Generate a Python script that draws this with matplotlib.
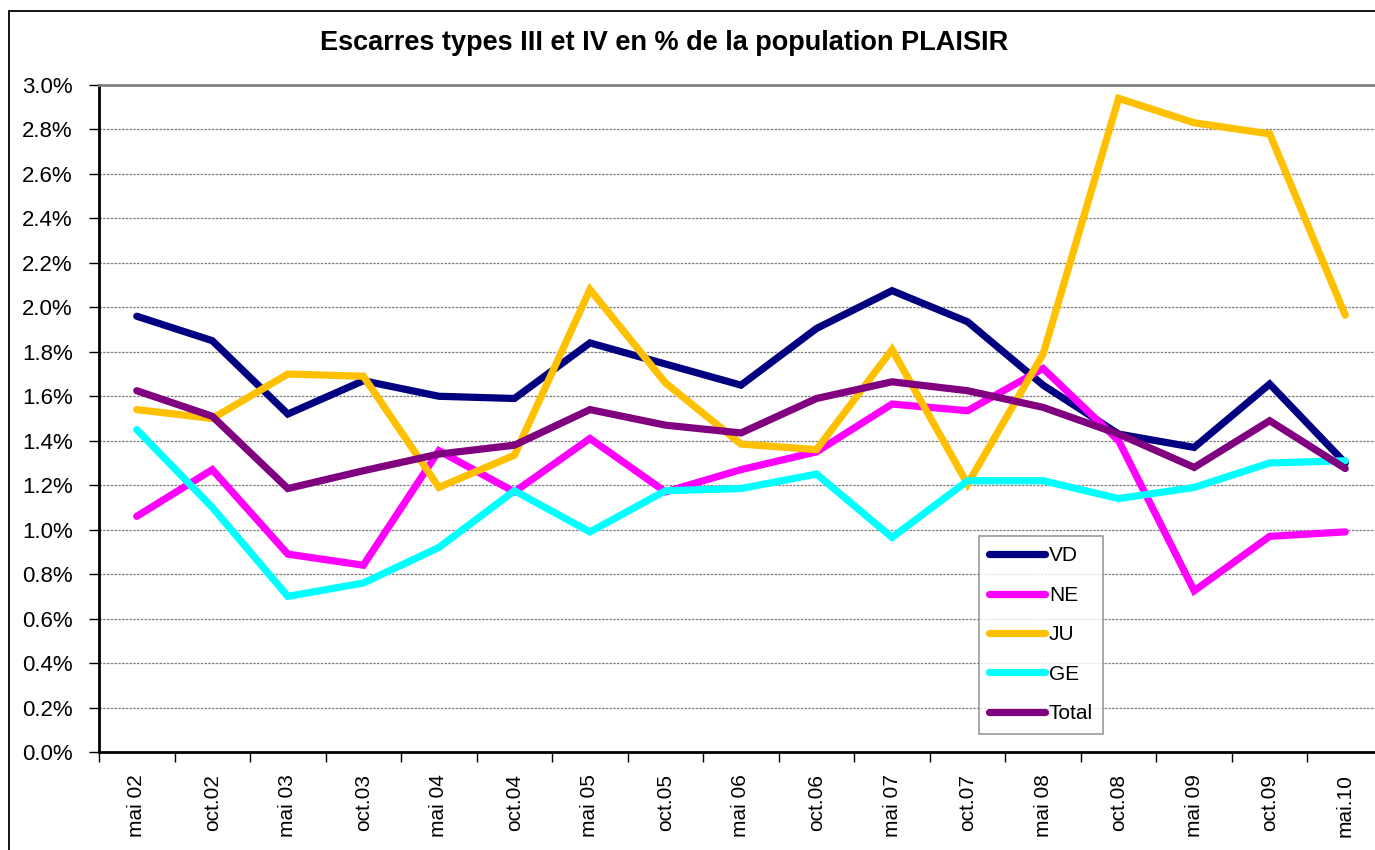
import matplotlib
matplotlib.use('Agg')
import matplotlib.pyplot as plt
from matplotlib.patches import Rectangle
from matplotlib.ticker import PercentFormatter
import numpy as np

plt.rcParams['font.family'] = ['Liberation Sans', 'DejaVu Sans']

# données (en %)
periodes = ['mai 02', 'oct.02', 'mai 03', 'oct.03', 'mai 04', 'oct.04', 'mai 05', 'oct.05',
            'mai 06', 'oct.06', 'mai 07', 'oct.07', 'mai 08', 'oct.08', 'mai 09', 'oct.09', 'mai.10']
vd = [1.96, 1.85, 1.52, 1.67, 1.60, 1.59, 1.84, 1.745, 1.65, 1.905, 2.075, 1.935, 1.65, 1.43, 1.37, 1.655, 1.30]
ne = [1.06, 1.27, 0.89, 0.84, 1.355, 1.17, 1.41, 1.17, 1.27, 1.35, 1.565, 1.535, 1.725, 1.40, 0.725, 0.97, 0.99]
ju = [1.54, 1.50, 1.70, 1.69, 1.19, 1.335, 2.08, 1.66, 1.385, 1.36, 1.81, 1.205, 1.79, 2.94, 2.83, 2.78, 1.965]
ge = [1.45, 1.10, 0.70, 0.76, 0.92, 1.175, 0.99, 1.175, 1.185, 1.25, 0.965, 1.22, 1.22, 1.14, 1.19, 1.30, 1.31]
total = [1.625, 1.51, 1.185, 1.265, 1.34, 1.38, 1.54, 1.47, 1.435, 1.59, 1.665, 1.625, 1.55, 1.43, 1.28, 1.49, 1.275]

series = [('VD', vd, '#000080'), ('NE', ne, '#FF00FF'), ('JU', ju, '#FFC000'),
          ('GE', ge, '#00FFFF'), ('Total', total, '#800080')]

fig = plt.figure(figsize=(13.75, 8.5), dpi=100)
ax = fig.add_axes([99 / 1375, 1 - 752 / 850, 1284 / 1375, 667 / 850])

# cadre extérieur du graphique
fig.patches.append(Rectangle((9 / 1375, -0.05), 1.1, 1 - 11 / 850 + 0.05, transform=fig.transFigure,
                             fill=False, edgecolor='black', linewidth=1.3))

x = np.arange(len(periodes))
for nom, vals, c in series:
    ax.plot(x, vals, color=c, linewidth=5.2, label=nom, solid_capstyle='round', solid_joinstyle='miter')

ax.set_xlim(-0.5, len(periodes) - 0.5)
ax.set_ylim(0, 3.0)
ax.set_yticks(np.arange(0, 3.01, 0.2))
ax.yaxis.set_major_formatter(PercentFormatter(decimals=1))
ax.yaxis.grid(True, linestyle=(0, (2, 1)), color='#808080', linewidth=0.9)
ax.set_axisbelow(True)

ax.set_xticks(x)
ax.set_xticklabels(periodes, rotation=90)
ax.set_xticks(np.arange(-0.5, len(periodes)), minor=True)
ax.tick_params(axis='x', which='major', length=0, pad=16, labelsize=15)
ax.tick_params(axis='x', which='minor', length=7, width=1, direction='out')
ax.tick_params(axis='y', length=7, width=1, direction='out', labelsize=16, pad=12)

for s in ['left', 'bottom']:
    ax.spines[s].set_linewidth(2)
    ax.spines[s].set_color('black')
ax.spines['top'].set_color('#808080')
ax.spines['top'].set_linewidth(2)
ax.spines['right'].set_visible(False)

fig.text(664 / 1375, 1 - 43 / 850, 'Escarres types III et IV en % de la population PLAISIR',
         ha='center', va='center', fontsize=19.5, fontweight='bold')

leg = ax.legend(loc='upper left', bbox_to_anchor=(979 / 1375, 1 - 536 / 850),
                bbox_transform=fig.transFigure, fontsize=15, frameon=True, fancybox=False,
                edgecolor='#808080', handlelength=2.65, handletextpad=0.2, labelspacing=0.98,
                borderpad=0.5, borderaxespad=0)
leg.get_frame().set_linewidth(1.2)

fig.savefig('out.png', dpi=100)
